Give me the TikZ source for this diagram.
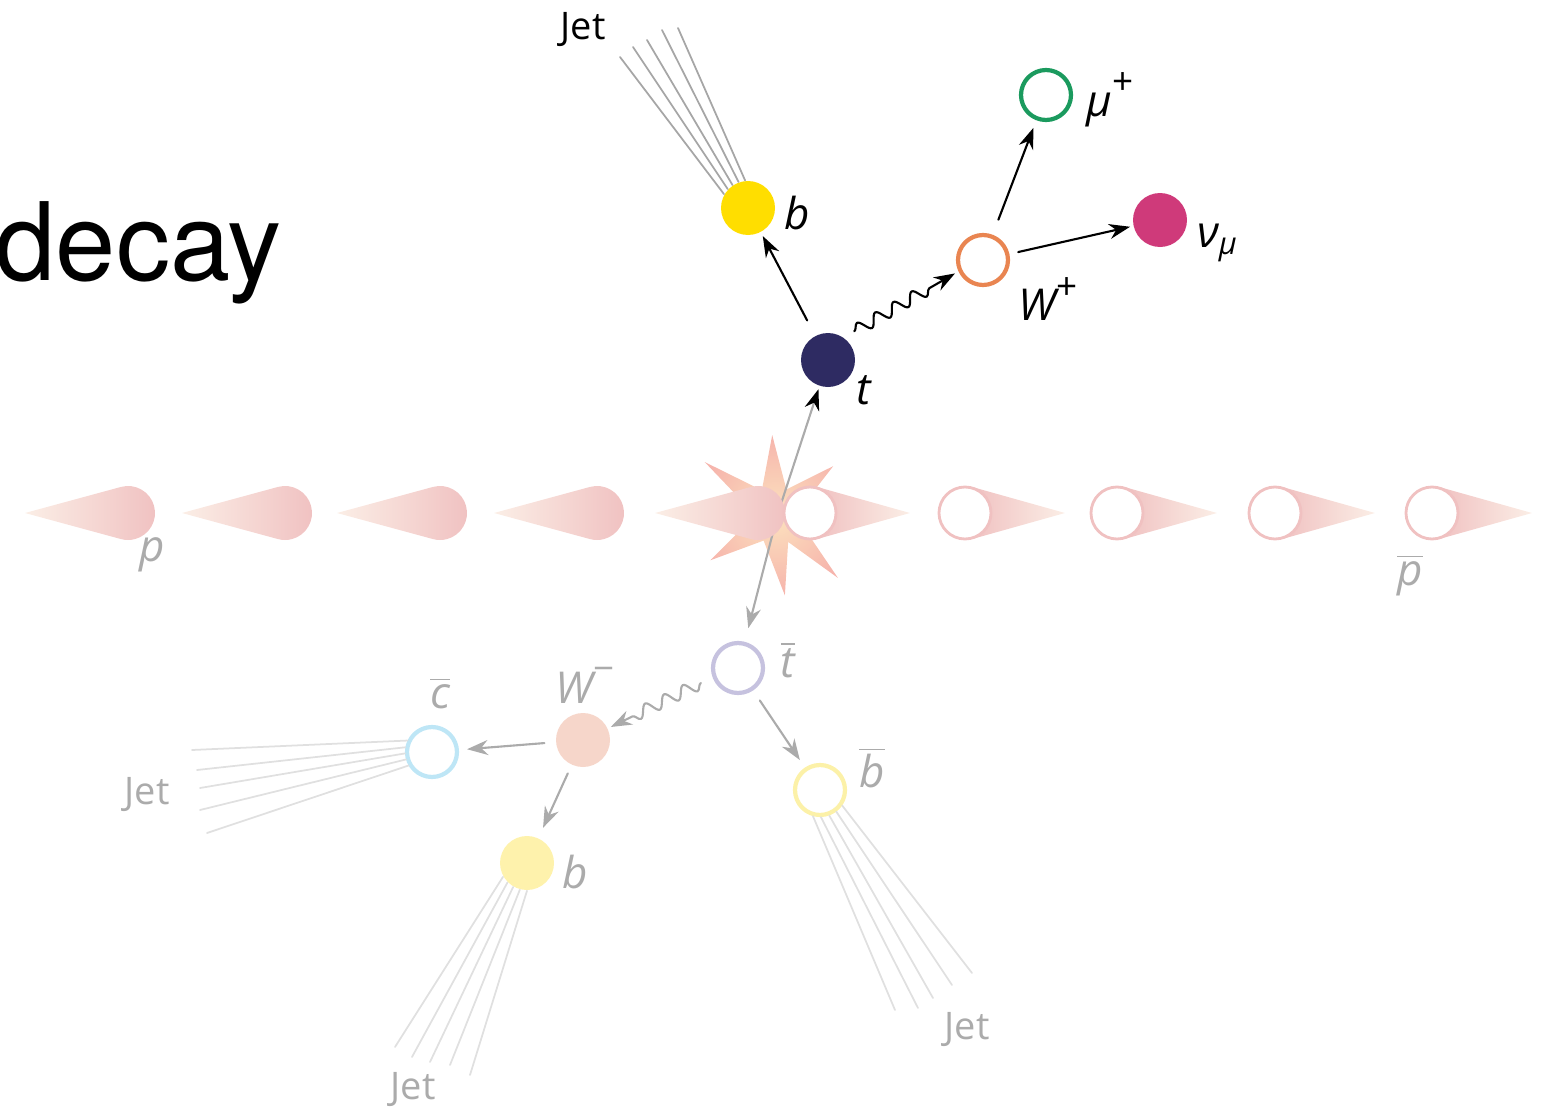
\documentclass[tikz,border=0pt]{standalone}
\usepackage{fontspec}
\newfontfamily\headfont{TeX Gyre Heros}
\newfontfamily\lblfont{Open Sans}
\usepackage{tikz}
\usetikzlibrary{arrows.meta,decorations.pathmorphing,calc}
\usepackage{xcolor}

\definecolor{topq}{HTML}{2E2B62}
\definecolor{bq}{HTML}{FFDE00}
\definecolor{wboson}{HTML}{E98551}
\definecolor{muon}{HTML}{1B9A5E}
\definecolor{nuc}{HTML}{CF3A7A}
\definecolor{tbarc}{HTML}{C6C2DF}
\definecolor{wmc}{HTML}{F6D6CA}
\definecolor{cbarc}{HTML}{BEE6F6}
\definecolor{b2c}{HTML}{FEF2AC}
\definecolor{bbarc}{HTML}{FCF1A8}
\definecolor{beamhead}{HTML}{F0C1C1}
\definecolor{beamtail}{HTML}{FBEEE6}
\definecolor{flashin}{HTML}{FCE2BE}
\definecolor{flashout}{HTML}{F6B4AC}
\definecolor{fadegray}{HTML}{ABABAB}
\definecolor{jetdark}{HTML}{A6A6A6}
\definecolor{jetlight}{HTML}{E0E0E0}

\newcommand{\barit}[1]{$\overline{\hbox{\itshape #1}}$}
\newcommand{\chg}[1]{\raisebox{0.5em}{\upshape\fontsize{10.5}{12}\selectfont #1}}

\begin{document}
\begin{tikzpicture}[line cap=round,
  filled/.style={circle,minimum size=0.54cm,inner sep=0pt,fill=#1},
  hollow/.style={circle,minimum size=0.5cm,inner sep=0pt,draw=#1,line width=1.2pt,fill=white},
  pbar/.style={circle,minimum size=0.52cm,inner sep=0pt,draw=beamhead,line width=0.8pt,fill=white},
  arr/.style={-{Stealth[length=2.1mm,width=1.5mm]},line width=0.6pt},
  fadearr/.style={arr,draw=fadegray},
  wavy/.style={decorate,decoration={snake,amplitude=0.6mm,segment length=2.1mm,post length=2mm}},
  jetline/.style={line width=0.5pt,draw=#1},
  lbl/.style={font=\lblfont\fontsize{12.5}{14}\selectfont,inner sep=1pt},
  jetlbl/.style={font=\lblfont\fontsize{10.8}{13}\selectfont,inner sep=1pt},
  fadetext/.style={text=fadegray}]
\useasboundingbox (0,0) rectangle (15.58,11.13);

\node[anchor=base west,inner sep=0pt,font=\headfont\fontsize{30.8}{36}\selectfont] (title) at (-0.05,8.33) {decay};

% collision flash
\coordinate (bang) at (7.75,5.98);
\begin{scope}[shift={(bang)}]
\shade[inner color=flashin,outer color=flashout]
  (92:0.80) -- (66:0.28) -- (40:0.76) -- (20:0.3) -- (0:0.8) -- (-22:0.3)
  -- (-45:0.89) -- (-64:0.3) -- (-83:0.81) -- (-114:0.28) -- (-145:0.79)
  -- (-162:0.3) -- (180:0.8) -- (162:0.3) -- (143:0.88) -- (118:0.28) -- cycle;
\end{scope}

% particles
\node[filled=bq] (b1) at (7.48,9.05) {};
\node[filled=topq] (t) at (8.28,7.53) {};
\node[hollow=wboson] (Wp) at (9.83,8.53) {};
\node[hollow=muon] (mu) at (10.46,10.18) {};
\node[filled=nuc] (nu) at (11.60,8.93) {};
\node[hollow=tbarc] (tb) at (7.38,4.45) {};
\node[filled=wmc] (Wm) at (5.83,3.73) {};
\node[hollow=cbarc] (cb) at (4.32,3.61) {};
\node[filled=b2c] (b2) at (5.27,2.50) {};
\node[hollow=bbarc] (bb) at (8.20,3.23) {};

% t tbar pair out of the vertex
\coordinate (vtx) at (7.78,6.00);
\draw[fadearr,-{Stealth[length=2.1mm,width=1.5mm,color=black]},shorten >=0.03cm] (vtx) -- (t);
\draw[fadearr,shorten >=0.14cm] (vtx) -- (tb);

% beams
\foreach \x in {1.28,2.85,4.40,5.97,7.58}{
  \shade[left color=beamtail,middle color=beamhead,right color=beamhead,shift={(\x,6)}]
    (-1.03,0) -- (105:0.27) arc[start angle=105,end angle=-105,radius=0.27] -- cycle;
}
\foreach \x [count=\i] in {8.10,9.65,11.17,12.75,14.32}{
  \shade[left color=beamhead,middle color=beamhead!80!beamtail,right color=beamtail,shift={(\x,6)}]
    (75:0.27) -- (1.0,0) -- (-75:0.27) -- cycle;
  \node[pbar] (pb\i) at (\x,6) {};
}

% jets
\foreach \a/\x/\y in {150/6.20/10.56,137/6.33/10.66,124/6.47/10.73,110/6.62/10.83,96/6.78/10.85}
  \draw[jetline=jetdark] (b1.\a) -- (\x,\y);
\foreach \a/\x/\y in {155/1.92/3.63,170/1.97/3.43,183/2.00/3.25,196/2.00/3.03,210/2.07/2.80}
  \draw[jetline=jetlight] (cb.\a) -- (\x,\y);
\foreach \a/\x/\y in {210/3.95/0.66,225/4.12/0.56,240/4.30/0.51,255/4.50/0.48,270/4.70/0.38}
  \draw[jetline=jetlight] (b2.\a) -- (\x,\y);
\foreach \a/\x/\y in {255/8.95/1.03,272/9.18/1.05,290/9.33/1.15,307/9.52/1.28,325/9.72/1.40}
  \draw[jetline=jetlight] (bb.\a) -- (\x,\y);

% decay chain, top
\draw[arr,shorten <=0.17cm,shorten >=0.04cm] (t) -- (b1);
\draw[arr,wavy] ($(t.55)!0.12cm!(Wp.205)$) -- ($(Wp.205)!0.04cm!(t.55)$);
\draw[arr,shorten <=0.16cm,shorten >=0.08cm] (Wp) -- (mu);
\draw[arr,shorten <=0.09cm,shorten >=0.03cm] (Wp) -- (nu);

% decay chain, bottom
\draw[fadearr,wavy] ($(tb.200)!0.13cm!(Wm.25)$) -- ($(Wm.25)!0.03cm!(tb.200)$);
\draw[fadearr,shorten <=0.11cm,shorten >=0.08cm] (Wm) -- (cb);
\draw[fadearr,shorten <=0.09cm,shorten >=0.11cm] (Wm) -- (b2);
\draw[fadearr,shorten <=0.12cm,shorten >=0.09cm] (tb) -- (bb);

% labels
\node[lbl] (b1l) at (7.97,9.00) {\itshape b};
\node[lbl] (tl) at (8.64,7.23) {\itshape t};
\node[lbl] (Wpl) at (10.48,8.14) {\itshape W\chg{+}};
\node[lbl] (mul) at (11.10,10.13) {\itshape μ\chg{+}};
\node[lbl] (nul) at (12.18,8.70) {\itshape ν\textsubscript{μ}};
\node[lbl,fadetext] (pl) at (1.52,5.58) {\itshape p};
\node[lbl,fadetext] (pbl) at (14.10,5.38) {\barit{p}};
\node[lbl,fadetext] (tbl) at (7.88,4.53) {\barit{t}};
\node[lbl,fadetext] (Wml) at (5.85,4.28) {\itshape W\chg{−}};
\node[lbl,fadetext] (cbl) at (4.40,4.20) {\barit{c}};
\node[lbl,fadetext] (b2l) at (5.75,2.41) {\itshape b};
\node[lbl,fadetext] (bbl) at (8.72,3.45) {\barit{b}};
\node[jetlbl] (jet1) at (5.83,10.83) {Jet};
\node[jetlbl,fadetext] (jet2) at (1.47,3.18) {Jet};
\node[jetlbl,fadetext] (jet3) at (4.13,0.23) {Jet};
\node[jetlbl,fadetext] (jet4) at (9.67,0.83) {Jet};
\end{tikzpicture}
\end{document}
